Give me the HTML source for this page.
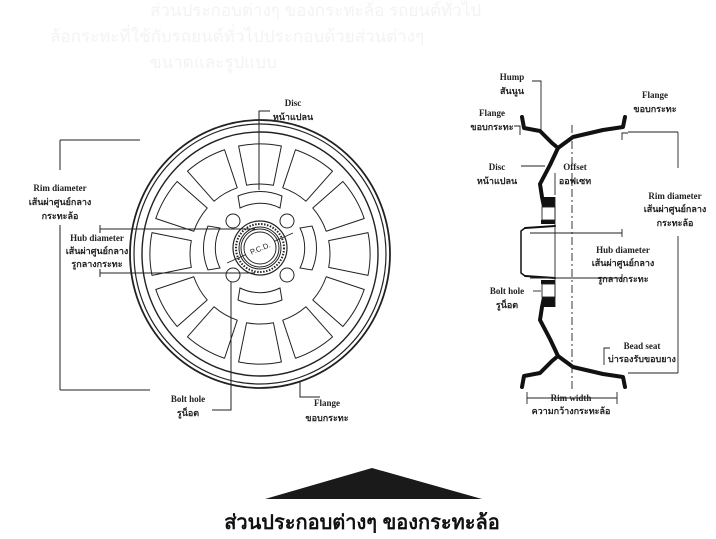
<!DOCTYPE html>
<html><head><meta charset="utf-8"><style>
html,body{margin:0;padding:0;background:#fff;width:716px;height:539px;overflow:hidden}
svg{display:block}
.l{font-family:"Liberation Serif","Noto Serif CJK SC","Noto Sans CJK SC",serif;font-weight:bold;font-size:9px;fill:#222;text-anchor:middle}
.g{font-family:"Liberation Sans","Noto Sans CJK SC",sans-serif;font-size:17px;fill:#f3f3f3}
</style></head><body>
<svg width="716" height="539" viewBox="0 0 716 539">
<text class="g" x="150" y="16">ส่วนประกอบต่างๆ ของกระทะล้อ รถยนต์ทั่วไป</text>
<text class="g" x="50" y="42">ล้อกระทะที่ใช้กับรถยนต์ทั่วไปประกอบด้วยส่วนต่างๆ</text>
<text class="g" x="150" y="68">ขนาดและรูปแบบ</text>
<defs>
<path id="w" d="M-13.4,-68.7 L-21.4,-108 A110 110 0 0 1 21.4,-108 L13.4,-68.7 A70 70 0 0 0 -13.4,-68.7Z" fill="none" stroke="#222" stroke-width="1" stroke-linejoin="round"/>
<path id="iw" d="M-20,-40 A45 45 0 0 1 20,-40 L22,-52 A56 56 0 0 0 -22,-52Z" fill="none" stroke="#222" stroke-width="1"/>
</defs>
<g transform="translate(260,254)" stroke="#222" fill="none">
<ellipse rx="130" ry="134" stroke-width="1.8"/>
<ellipse rx="126" ry="130" stroke-width="1.2"/>
<ellipse rx="118" ry="122" stroke-width="1.4"/>
<g><use href="#w"/><use href="#w" transform="rotate(30)"/><use href="#w" transform="rotate(60)"/><use href="#w" transform="rotate(90)"/><use href="#w" transform="rotate(120)"/><use href="#w" transform="rotate(150)"/><use href="#w" transform="rotate(180)"/><use href="#w" transform="rotate(210)"/><use href="#w" transform="rotate(240)"/><use href="#w" transform="rotate(270)"/><use href="#w" transform="rotate(300)"/><use href="#w" transform="rotate(330)"/></g>
<g transform="translate(0,-6)"><use href="#iw"/><use href="#iw" transform="rotate(90)"/><use href="#iw" transform="rotate(180)"/><use href="#iw" transform="rotate(270)"/>
<circle cx="-27" cy="-27" r="7"/><circle cx="27" cy="-27" r="7"/><circle cx="-27" cy="27" r="7"/><circle cx="27" cy="27" r="7"/>
<circle r="27" stroke-width="1.2"/><circle r="24" stroke-width="2" stroke-dasharray="1.5 1.5"/><circle r="21"/><circle r="19"/>
<circle r="16" fill="#fff"/>
<line x1="-33" y1="15" x2="-14" y2="6.5" stroke-width="0.8"/><line x1="14" y1="-6.5" x2="33" y2="-15" stroke-width="0.8"/>
<text x="0" y="3" font-family="Liberation Sans" font-size="7.5" fill="#222" stroke="none" text-anchor="middle" transform="rotate(-22)">P.C.D.</text></g>
</g>
<g stroke="#222" fill="none" stroke-width="1">
<polyline points="270,111 259,111 259,190"/>
<polyline points="60,140 140,140"/><line x1="60" y1="140" x2="60" y2="170"/><line x1="60" y1="225" x2="60" y2="390"/><line x1="60" y1="390" x2="150" y2="390"/>
<line x1="100" y1="229" x2="255" y2="229"/><line x1="100" y1="273" x2="255" y2="273"/>
<line x1="100" y1="225" x2="100" y2="233"/><line x1="100" y1="269" x2="100" y2="277"/>
<polyline points="212,410 231,410 231,282"/>
<polyline points="300,382 300,397 320,397"/>
</g>
<text class="l" x="293" y="106">Disc</text><text class="l" x="293" y="120">หน้าแปลน</text>
<text class="l" x="60" y="191">Rim diameter</text><text class="l" x="60" y="205">เส้นผ่าศูนย์กลาง</text><text class="l" x="60" y="219">กระทะล้อ</text>
<text class="l" x="97" y="241">Hub diameter</text><text class="l" x="97" y="254">เส้นผ่าศูนย์กลาง</text><text class="l" x="97" y="267">รูกลางกระทะ</text>
<text class="l" x="188" y="402">Bolt hole</text><text class="l" x="188" y="416">รูน็อต</text>
<text class="l" x="327" y="406">Flange</text><text class="l" x="327" y="421">ขอบกระทะ</text>
<g fill="none" stroke="#111" stroke-linejoin="round" stroke-linecap="round">
<path d="M522,117 L524,128 L540,131 L552,143 L558,148 L573,137 L603,130 L623,127 L625,117" stroke-width="4"/>
<path d="M558,148 L550,165 L540,184 L542,197" stroke-width="4"/>
<path d="M522,387 L524,376 L540,373 L552,361 L558,356 L573,367 L603,374 L623,377 L625,387" stroke-width="4"/>
<path d="M558,356 L550,339 L540,320 L542,307" stroke-width="4"/>
<path d="M525,228 L555,226 M525,276 L555,278" stroke-width="2"/>
<path d="M525,228 L521,231 L521,273 L525,276" stroke-width="1.5"/>
</g>
<path d="M540,197 L555,197 L555,207 L542,207Z M540,307 L555,307 L555,297 L542,297Z M541,220 L555,220 L555,224 L541,224Z M541,284 L555,284 L555,280 L541,280Z" fill="#111"/>
<g fill="none" stroke="#222" stroke-width="0.9">
<rect x="542" y="207" width="13" height="13"/><rect x="542" y="284" width="13" height="13"/>
<line x1="555" y1="197" x2="555" y2="307"/>
<line x1="572" y1="125" x2="572" y2="390" stroke-dasharray="8 3 2 3"/>
<polyline points="532,81 541,81 541,130"/>
<polyline points="514,126 520,126 520,135"/>
<polyline points="628,133 622,133 622,140"/>
<line x1="521" y1="166" x2="545" y2="166"/>
<line x1="555" y1="173" x2="555" y2="195"/>
<line x1="628" y1="132" x2="678" y2="132"/><line x1="678" y1="132" x2="678" y2="168"/><line x1="678" y1="236" x2="678" y2="373"/><line x1="628" y1="373" x2="678" y2="373"/>
<line x1="530" y1="233" x2="622" y2="233"/><line x1="530" y1="278" x2="622" y2="278"/><line x1="622" y1="229" x2="622" y2="237"/><line x1="622" y1="274" x2="622" y2="282"/>
<line x1="533" y1="291" x2="541" y2="291"/>
<polyline points="610,348 604,348 604,365"/>
<line x1="527" y1="398" x2="617" y2="398"/><line x1="527" y1="392" x2="527" y2="404"/><line x1="617" y1="392" x2="617" y2="404"/>
</g>
<text class="l" x="512" y="80">Hump</text><text class="l" x="512" y="94">สันนูน</text>
<text class="l" x="492" y="116">Flange</text><text class="l" x="492" y="130">ขอบกระทะ</text>
<text class="l" x="655" y="98">Flange</text><text class="l" x="655" y="112">ขอบกระทะ</text>
<text class="l" x="497" y="170">Disc</text><text class="l" x="497" y="184">หน้าแปลน</text>
<text class="l" x="575" y="170">Offset</text><text class="l" x="575" y="184">ออฟเซท</text>
<text class="l" x="675" y="199">Rim diameter</text><text class="l" x="675" y="212">เส้นผ่าศูนย์กลาง</text><text class="l" x="675" y="226">กระทะล้อ</text>
<text class="l" x="623" y="253">Hub diameter</text><text class="l" x="623" y="266">เส้นผ่าศูนย์กลาง</text><text class="l" x="623" y="282">รูกลางกระทะ</text>
<text class="l" x="507" y="294">Bolt hole</text><text class="l" x="507" y="308">รูน็อต</text>
<text class="l" x="642" y="349">Bead seat</text><text class="l" x="642" y="362">บ่ารองรับขอบยาง</text>
<text class="l" x="571" y="401">Rim width</text><text class="l" x="571" y="414">ความกว้างกระทะล้อ</text>
<polygon points="265,499 372,468 482,499" fill="#1a1a1a"/>
<text x="362" y="529" font-family="'Liberation Sans','Noto Sans CJK SC',sans-serif" font-weight="bold" font-size="20" fill="#111" text-anchor="middle">ส่วนประกอบต่างๆ  ของกระทะล้อ</text>
</svg>
</body></html>
